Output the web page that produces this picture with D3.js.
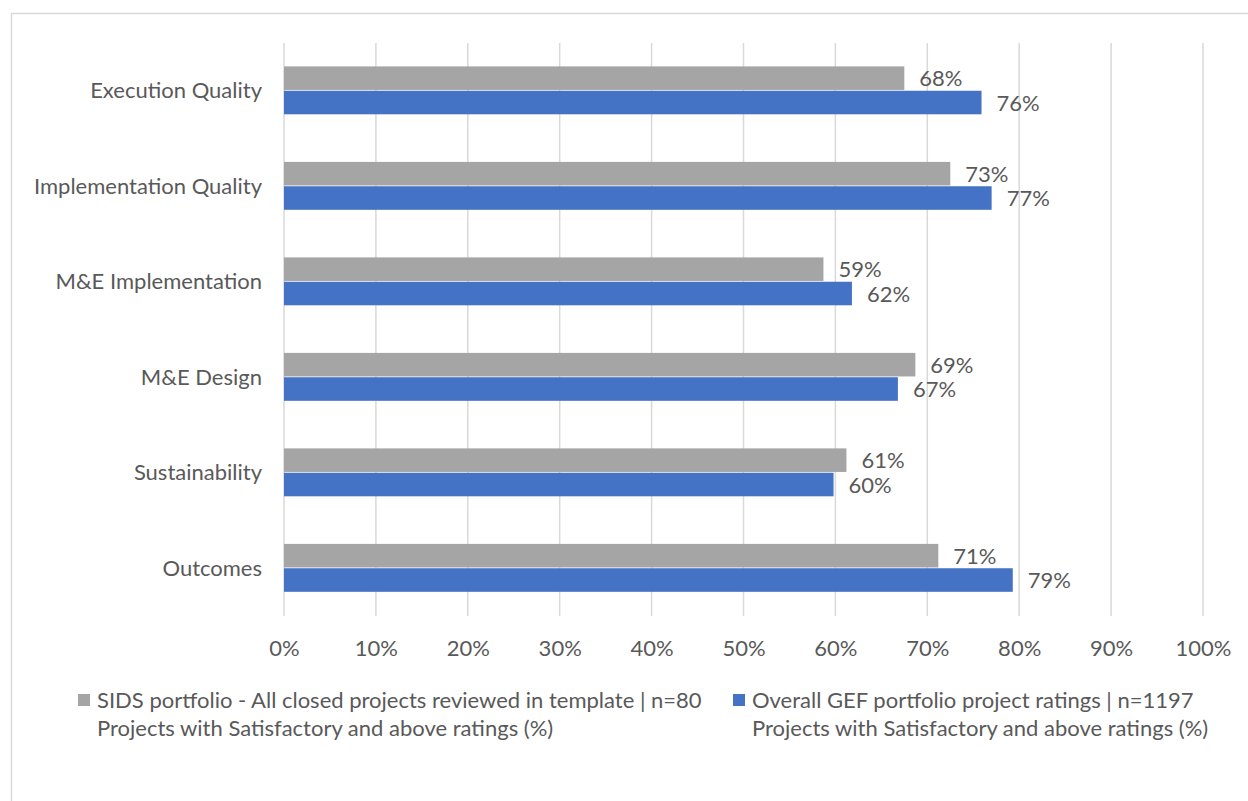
<!DOCTYPE html>
<html>
<head>
<meta charset="utf-8">
<script src="https://cdn.jsdelivr.net/npm/d3@7"></script>
<style>
  html, body { margin: 0; padding: 0; background: #fff; }
  svg { display: block; }
  text { font-family: Lato, "Open Sans", sans-serif; fill: #595959; }
</style>
</head>
<body>
<svg id="chart" width="1248" height="801"></svg>
<script>
const categories = ["Execution Quality", "Implementation Quality", "M&E Implementation", "M&E Design", "Sustainability", "Outcomes"];
const sidsValues = [0.675, 0.725, 0.587, 0.687, 0.612, 0.712];
const sidsLabels = ["68%", "73%", "59%", "69%", "61%", "71%"];
const gefValues = [0.759, 0.770, 0.618, 0.668, 0.598, 0.793];
const gefLabels = ["76%", "77%", "62%", "67%", "60%", "79%"];
const xTicks = [0, 0.1, 0.2, 0.3, 0.4, 0.5, 0.6, 0.7, 0.8, 0.9, 1.0];
const seriesNames = [
  ["SIDS portfolio - All closed projects reviewed in template | n=80", "Projects with Satisfactory and above ratings (%)"],
  ["Overall GEF portfolio project ratings | n=1197", "Projects with Satisfactory and above ratings (%)"]
];
const seriesColors = ["#A5A5A5", "#4472C4"];

const svg = d3.select("#chart");
const FS = 22;
const FONT = "Lato, 'Open Sans', sans-serif";

// chart border
svg.append("rect").attr("x", 11.5).attr("y", 13.5).attr("width", 1300).attr("height", 820)
  .attr("fill", "none").attr("stroke", "#D9D9D9").attr("stroke-width", 1.5);

const plot = { left: 284, right: 1203, top: 43, bottom: 616 };
const x = d3.scaleLinear().domain([0, 1]).range([plot.left, plot.right]);
const y = d3.scaleBand().domain(categories).range([plot.top, plot.bottom]).paddingInner(0.49).paddingOuter(0.245);
const sub = d3.scaleBand().domain([0, 1]).range([0, y.bandwidth()]);

// gridlines
svg.append("g").selectAll("line").data(xTicks).join("line")
  .attr("x1", d => x(d)).attr("x2", d => x(d))
  .attr("y1", plot.top).attr("y2", plot.bottom)
  .attr("stroke", "#D9D9D9").attr("stroke-width", 1.5);

// x axis labels
const xAxis = d3.axisBottom(x).tickValues(xTicks).tickFormat(d3.format(".0%")).tickSize(0).tickPadding(0);
const gx = svg.append("g").attr("transform", `translate(0,${plot.bottom})`).call(xAxis);
gx.select(".domain").remove();
gx.selectAll("text").attr("y", 40).attr("dy", 0).style("font-size", FS + "px")
  .style("font-family", FONT).attr("fill", "#595959");

// y axis labels
const yAxis = d3.axisLeft(y).tickSize(0).tickPadding(22);
const gy = svg.append("g").attr("transform", `translate(${plot.left},0)`).call(yAxis);
gy.select(".domain").remove();
gy.selectAll("text").style("font-size", FS + "px")
  .style("font-family", FONT).attr("fill", "#595959").attr("dy", "0.35em");

const series = [
  { vals: sidsValues, labels: sidsLabels },
  { vals: gefValues, labels: gefLabels }
];

series.forEach((s, si) => {
  const g = svg.append("g");
  g.selectAll("rect").data(categories).join("rect")
    .attr("x", x(0))
    .attr("y", c => y(c) + sub(si))
    .attr("width", (c, i) => x(s.vals[i]) - x(0))
    .attr("height", sub.bandwidth() - 0.8)
    .attr("fill", seriesColors[si]);
  g.selectAll("text").data(categories).join("text")
    .attr("x", (c, i) => x(s.vals[i]) + 15)
    .attr("y", c => y(c) + sub(si) + sub.bandwidth() / 2)
    .attr("dy", "0.35em")
    .style("font-size", FS + "px")
    .text((c, i) => s.labels[i]);
});

// legend
const legendX = [78, 733];
seriesNames.forEach((lines, i) => {
  const g = svg.append("g");
  g.append("rect").attr("x", legendX[i]).attr("y", 694).attr("width", 12).attr("height", 12).attr("fill", seriesColors[i]);
  lines.forEach((t, li) => {
    g.append("text").attr("x", legendX[i] + 19).attr("y", 708 + li * 28)
      .style("font-size", FS + "px").text(t);
  });
});
</script>
</body>
</html>
